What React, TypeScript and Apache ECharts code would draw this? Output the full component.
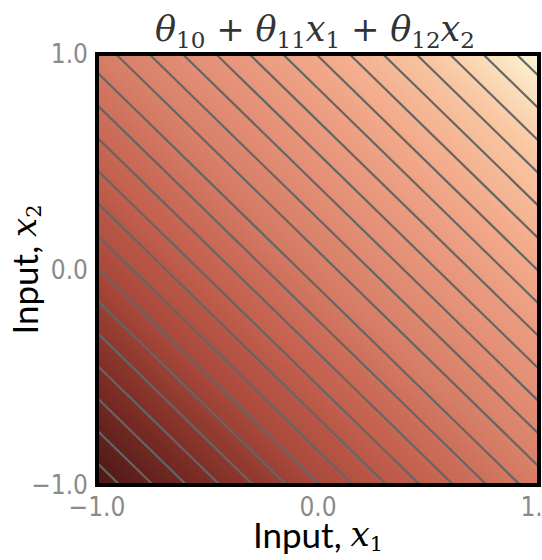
import React, { useEffect, useRef } from 'react';
import * as echarts from 'echarts';

// Axis ranges and ticks
const X1_RANGE = [-1, 1];
const X2_RANGE = [-1, 1];
const LABEL_VALUES = [-1, 0, 1];
const LABEL_TEXTS = ['−1.0', '0.0', '1.0'];
const MINOR_SPLITS = 5;

// Model parameters: f = θ10 + θ11·x1 + θ12·x2
const THETA = [0, 1, 1];

// Contour levels of f
const CONTOUR_LEVELS = [
  -1.897, -1.746, -1.595, -1.444, -1.293, -1.142, -0.991, -0.84, -0.689, -0.538, -0.387, -0.236, -0.085,
  0.085, 0.236, 0.387, 0.538, 0.689, 0.84, 0.991, 1.142, 1.293, 1.444, 1.595, 1.746, 1.897,
];

// Colour map of f
const COLOR_LEVELS = [-2, -1.5, -1, -0.5, 0, 0.5, 1, 1.5, 2];
const COLOR_VALUES = ['#4a1714', '#7a2c25', '#a9483b', '#c4614f', '#d67d66', '#e69379', '#f2a98a', '#f9c7a2', '#fdf6d6'];

const TICK_FONT = '"DejaVu Sans Condensed", "Liberation Sans Narrow", Roboto, sans-serif';
const SERIF = '"DejaVu Serif", "Liberation Serif", serif';

export default function App() {
  const ref = useRef<HTMLDivElement>(null);
  useEffect(() => {
    if (!ref.current) return;
    const chart = echarts.init(ref.current, null, { renderer: 'svg' });
    const [t0, t1, t2] = THETA;
    const fAt = (a: number, b: number) => t0 + t1 * a + t2 * b;
    const fMin = fAt(X1_RANGE[0], X2_RANGE[0]);
    const fMax = fAt(X1_RANGE[1], X2_RANGE[1]);

    const axisCommon = {
      type: 'value',
      interval: 1,
      splitLine: { show: false },
      minorSplitLine: { show: false },
      axisLine: { show: true, lineStyle: { color: '#000', width: 4 } },
      axisTick: { show: true, length: 6, lineStyle: { color: '#7a7a7a', width: 2 } },
      minorTick: { show: true, splitNumber: MINOR_SPLITS, length: 6, lineStyle: { color: '#7a7a7a', width: 2 } },
      axisLabel: {
        color: '#8a8a8a',
        fontSize: 26,
        fontFamily: TICK_FONT,
        formatter: (v: number) => {
          const i = LABEL_VALUES.findIndex((x) => Math.abs(x - v) < 1e-9);
          return i >= 0 ? LABEL_TEXTS[i] : '';
        },
      },
      nameLocation: 'middle',
      nameMoveOverlap: false,
      nameTextStyle: {
        rich: {
          a: { fontFamily: 'Lato, sans-serif', fontSize: 35, color: '#000', lineHeight: 40 },
          x: { fontFamily: SERIF, fontStyle: 'italic', fontSize: 34, color: '#000', lineHeight: 40 },
          s: { fontFamily: SERIF, fontSize: 21, color: '#000', lineHeight: 24, verticalAlign: 'bottom' },
        },
      },
    };

    const option: any = {
      animation: false,
      title: {
        text: '{t|θ}{s|10}{o| + }{t|θ}{s|11}{t|x}{s|1}{o| + }{t|θ}{s|12}{t|x}{s|2}',
        left: 150,
        top: 2,
        textStyle: {
          fontWeight: 'normal',
          rich: {
            t: { fontFamily: SERIF, fontStyle: 'italic', fontWeight: 'normal', fontSize: 35, color: '#333', lineHeight: 44 },
            o: { fontFamily: SERIF, fontWeight: 'normal', fontSize: 34, color: '#333', lineHeight: 44 },
            s: { fontFamily: SERIF, fontWeight: 'normal', fontSize: 23, color: '#333', lineHeight: 26, verticalAlign: 'bottom' },
          },
        },
      },
      grid: { left: 97, right: 3, top: 54, bottom: 75, containLabel: false, outerBoundsMode: 'none' },
      xAxis: {
        ...axisCommon,
        min: X1_RANGE[0],
        max: X1_RANGE[1],
        axisLabel: { ...axisCommon.axisLabel, margin: 9 },
        name: '{a|Input, }{x|x}{s|1}',
        nameGap: 29,
      },
      yAxis: {
        ...axisCommon,
        min: X2_RANGE[0],
        max: X2_RANGE[1],
        axisLabel: { ...axisCommon.axisLabel, margin: 9 },
        name: '{a|Input, }{x|x}{s|2}',
        nameGap: 53,
      },
      series: [
        {
          type: 'custom',
          z: 1,
          silent: true,
          data: [[X1_RANGE[0], X2_RANGE[0]]],
          renderItem: (_p: any, api: any) => {
            const tl = api.coord([X1_RANGE[0], X2_RANGE[1]]);
            const br = api.coord([X1_RANGE[1], X2_RANGE[0]]);
            const p0 = api.coord([X1_RANGE[0], X2_RANGE[0]]);
            const p1 = api.coord([X1_RANGE[1], X2_RANGE[1]]);
            const a = api.coord([0, 0]);
            const b = api.coord([t2, -t1]);
            const dx = b[0] - a[0];
            const dy = b[1] - a[1];
            const len = Math.hypot(dx, dy);
            const nx = dy / len;
            const ny = -dx / len;
            const proj = (p1[0] - p0[0]) * nx + (p1[1] - p0[1]) * ny;
            const end = [p0[0] + nx * proj, p0[1] + ny * proj];
            const stops = COLOR_LEVELS.map((f, i) => ({ offset: (f - fMin) / (fMax - fMin), color: COLOR_VALUES[i] }));
            return {
              type: 'rect',
              shape: { x: tl[0], y: tl[1], width: br[0] - tl[0], height: br[1] - tl[1] },
              style: { fill: new echarts.graphic.LinearGradient(p0[0], p0[1], end[0], end[1], stops, true) },
            };
          },
        },
        {
          type: 'custom',
          z: 2,
          silent: true,
          data: CONTOUR_LEVELS.map((c) => [c, 0]),
          renderItem: (_p: any, api: any) => {
            const c = api.value(0);
            const xa = Math.max(X1_RANGE[0], (c - t0 - t2 * X2_RANGE[1]) / t1);
            const xb = Math.min(X1_RANGE[1], (c - t0 - t2 * X2_RANGE[0]) / t1);
            const pa = api.coord([xa, (c - t0 - t1 * xa) / t2]);
            const pb = api.coord([xb, (c - t0 - t1 * xb) / t2]);
            return {
              type: 'line',
              shape: { x1: pa[0], y1: pa[1], x2: pb[0], y2: pb[1] },
              style: { stroke: '#646666', lineWidth: 2.2 },
            };
          },
        },
        {
          type: 'custom',
          z: 3,
          silent: true,
          data: [[X1_RANGE[0], X2_RANGE[0]]],
          renderItem: (_p: any, api: any) => {
            const tl = api.coord([X1_RANGE[0], X2_RANGE[1]]);
            const br = api.coord([X1_RANGE[1], X2_RANGE[0]]);
            return {
              type: 'rect',
              shape: { x: tl[0], y: tl[1], width: br[0] - tl[0], height: br[1] - tl[1] },
              style: { fill: 'none', stroke: '#000', lineWidth: 4 },
            };
          },
        },
      ],
    };
    chart.setOption(option);
    return () => chart.dispose();
  }, []);
  return <div ref={ref} style={{ position: 'absolute', left: 0, top: 0, width: 542, height: 560 }} />;
}
